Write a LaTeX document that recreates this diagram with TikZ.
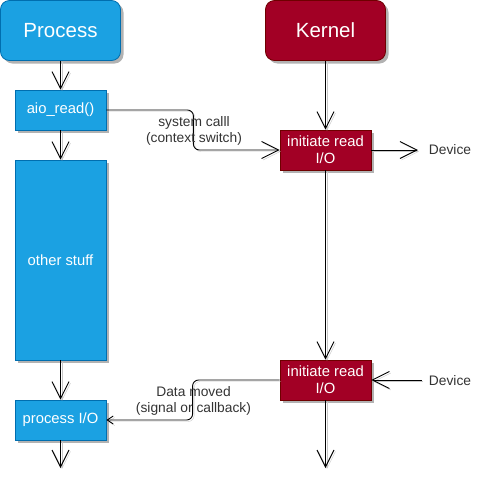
\documentclass[tikz,border=0pt]{standalone}
\usepackage{fontspec}
\setmainfont{Liberation Sans}
\usetikzlibrary{arrows.meta,shadows}
\definecolor{pfill}{HTML}{1BA1E2}
\definecolor{pdraw}{HTML}{006EAF}
\definecolor{kfill}{HTML}{A20025}
\definecolor{kdraw}{HTML}{6F0000}
\tikzset{
  boxshadow/.style={drop shadow={shadow xshift=3pt, shadow yshift=-3pt, fill=black!30, opacity=1}},
  anybox/.style={rectangle, text=white, line width=0.8pt, inner sep=0pt, align=center, boxshadow},
  pcol/.style={fill=pfill, draw=pdraw},
  kcol/.style={fill=kfill, draw=kdraw},
  titlebox/.style={anybox, rounded corners=9pt, minimum width=120pt, minimum height=60pt, font=\fontsize{20.5}{24}\selectfont},
  smallbox/.style={anybox, minimum width=91pt, minimum height=40pt, font=\fontsize{14.8}{16.7}\selectfont},
  lbl/.style={inner sep=0pt, align=center, text=black!80, font=\fontsize{13.8}{16}\selectfont},
  edgeshadow/.style={preaction={draw=black!22, transform canvas={shift={(1.5pt,-1.5pt)}}}},
  edge/.style={draw=black, line width=0.9pt, -{Straight Barb[length=17pt,width=17pt]}, edgeshadow},
  edgesmall/.style={draw=black, line width=0.9pt, -{Straight Barb[length=6pt,width=8pt]}, edgeshadow, rounded corners=6pt},
}
\begin{document}
\begin{tikzpicture}[x=1pt,y=-1pt]
\useasboundingbox (0,0) rectangle (484,493);
\node[titlebox,pcol] (process) at (60.5,30.5) {Process};
\node[titlebox,kcol] (kernel) at (325.5,30.5) {Kernel};
\node[smallbox,pcol] (aio) at (60.5,110) {aio\_read()};
\node[smallbox,pcol,minimum height=200pt] (other) at (60.5,260) {other stuff};
\node[smallbox,pcol] (pio) at (60.5,420) {process I/O};
\node[smallbox,kcol] (ir1) at (325.5,150) {initiate read\\I/O};
\node[smallbox,kcol] (ir2) at (325.5,380) {initiate read\\I/O};
\node[lbl] (dev1) at (450,150) {Device};
\node[lbl] (dev2) at (450,381) {Device};
\coordinate (pend) at (60.5,468);
\coordinate (kend) at (325.5,468);
\coordinate (dev1in) at (418,150);
\coordinate (dev2out) at (421.5,380);

\draw[edge] (process) -- (aio);
\draw[edge] (aio) -- (other);
\draw[edge] (other) -- (pio);
\draw[edge] (pio) -- (pend);
\draw[edge] (kernel) -- (ir1);
\draw[edge] (ir1) -- (ir2);
\draw[edge] (ir2) -- (kend);
\draw[edge] (ir1.east) -- (dev1in);
\draw[edge] (dev2out) -- (ir2.east);
\draw[edge, rounded corners=6pt] (aio.east) -- ++(87,0) |- (ir1.west);
\draw[edgesmall] (ir2.west) -- ++(-87,0) |- (pio.east);

\node[lbl] (sc) at (194,131) {system calll\\(context switch)};
\node[lbl] (dm) at (193.5,401) {Data moved\\(signal or callback)};
\end{tikzpicture}
\end{document}
